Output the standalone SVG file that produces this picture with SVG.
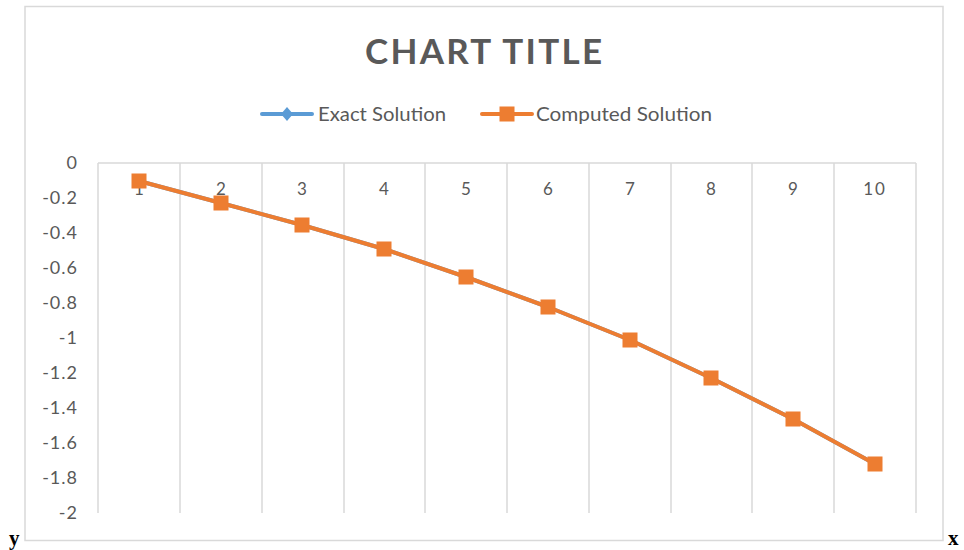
<svg xmlns="http://www.w3.org/2000/svg" width="964" height="550" viewBox="0 0 964 550">
<style>
.lbl{font-family:Lato,"Open Sans","Liberation Sans",sans-serif;font-size:17px;fill:#595959}
.ylbl{text-anchor:end;font-size:18px;letter-spacing:1px}
.xlbl{text-anchor:middle}
.grid{stroke:#d9d9d9;stroke-width:1.5;fill:none}
.leg{font-family:Lato,"Open Sans","Liberation Sans",sans-serif;font-size:19px;fill:#595959}
.ax{font-family:"Liberation Serif",serif;font-weight:bold;font-size:21px;fill:#000}
</style>
<defs>
<rect id="sq" x="-7.5" y="-7.5" width="15" height="15" fill="#ed7d31"/>
<path id="dm" d="M0,-7 L6,0 L0,7 L-6,0 Z" fill="#5b9bd5"/>
</defs>
<rect width="964" height="550" fill="#fff"/>
<rect id="border" x="25" y="6.5" width="918" height="534" fill="#fff" stroke="#d9d9d9" stroke-width="1.5"/>
<g id="title">
<text x="365" y="64" font-family="Lato,'Open Sans','Liberation Sans',sans-serif" font-weight="bold" font-size="35" textLength="237" lengthAdjust="spacing" fill="#595959">CHART TITLE</text>
</g>
<g id="legend">
<line x1="262" y1="114" x2="312" y2="114" stroke="#5b9bd5" stroke-width="4" stroke-linecap="round"/>
<use href="#dm" x="287" y="114"/>
<text class="leg" x="318" y="121" textLength="128" lengthAdjust="spacingAndGlyphs">Exact Solution</text>
<line x1="482" y1="114" x2="532" y2="114" stroke="#ed7d31" stroke-width="4" stroke-linecap="round"/>
<use href="#sq" x="507" y="114"/>
<text class="leg" x="536" y="121" textLength="176" lengthAdjust="spacingAndGlyphs">Computed Solution</text>
</g>
<g id="gridlines">
<line class="grid" x1="98" y1="163" x2="916" y2="163"/>
<line class="grid" x1="98" y1="163" x2="98" y2="513"/>
<line class="grid" x1="180" y1="163" x2="180" y2="513"/>
<line class="grid" x1="262" y1="163" x2="262" y2="513"/>
<line class="grid" x1="344" y1="163" x2="344" y2="513"/>
<line class="grid" x1="425" y1="163" x2="425" y2="513"/>
<line class="grid" x1="507" y1="163" x2="507" y2="513"/>
<line class="grid" x1="589" y1="163" x2="589" y2="513"/>
<line class="grid" x1="671" y1="163" x2="671" y2="513"/>
<line class="grid" x1="752" y1="163" x2="752" y2="513"/>
<line class="grid" x1="834" y1="163" x2="834" y2="513"/>
<line class="grid" x1="916" y1="163" x2="916" y2="513"/>
</g>
<g id="y-axis-labels" class="lbl ylbl">
<text x="78" y="169">0</text>
<text x="78" y="204">-0.2</text>
<text x="78" y="239">-0.4</text>
<text x="78" y="274">-0.6</text>
<text x="78" y="309">-0.8</text>
<text x="78" y="344">-1</text>
<text x="78" y="379">-1.2</text>
<text x="78" y="414">-1.4</text>
<text x="78" y="449">-1.6</text>
<text x="78" y="484">-1.8</text>
<text x="78" y="519">-2</text>
</g>
<g id="x-axis-labels" class="lbl xlbl">
<text x="139" y="195">1</text>
<text x="221" y="195">2</text>
<text x="302" y="195">3</text>
<text x="384" y="195">4</text>
<text x="466" y="195">5</text>
<text x="548" y="195">6</text>
<text x="630" y="195">7</text>
<text x="711" y="195">8</text>
<text x="793" y="195">9</text>
<text x="875" y="195" letter-spacing="2">10</text>
</g>
<g id="connectors">
<polyline id="exact-line" points="139,181 221,203 302,225 384,249 466,277 548,307 630,340 711,378 793,419 875,464" fill="none" stroke="#5b9bd5" stroke-width="4" stroke-linejoin="round"/>
<polyline id="computed-line" points="139,181 221,203 302,225 384,249 466,277 548,307 630,340 711,378 793,419 875,464" fill="none" stroke="#ed7d31" stroke-width="4" stroke-linejoin="round"/>
</g>
<g id="exact-markers">
<use href="#dm" x="139" y="181"/><use href="#dm" x="221" y="203"/><use href="#dm" x="302" y="225"/><use href="#dm" x="384" y="249"/><use href="#dm" x="466" y="277"/><use href="#dm" x="548" y="307"/><use href="#dm" x="630" y="340"/><use href="#dm" x="711" y="378"/><use href="#dm" x="793" y="419"/><use href="#dm" x="875" y="464"/>
</g>
<g id="computed-markers">
<use href="#sq" x="139" y="181"/><use href="#sq" x="221" y="203"/><use href="#sq" x="302" y="225"/><use href="#sq" x="384" y="249"/><use href="#sq" x="466" y="277"/><use href="#sq" x="548" y="307"/><use href="#sq" x="630" y="340"/><use href="#sq" x="711" y="378"/><use href="#sq" x="793" y="419"/><use href="#sq" x="875" y="464"/>
</g>
<g id="axis-names">
<text class="ax" x="9" y="545">y</text>
<text class="ax" x="948" y="545">x</text>
</g>
</svg>
